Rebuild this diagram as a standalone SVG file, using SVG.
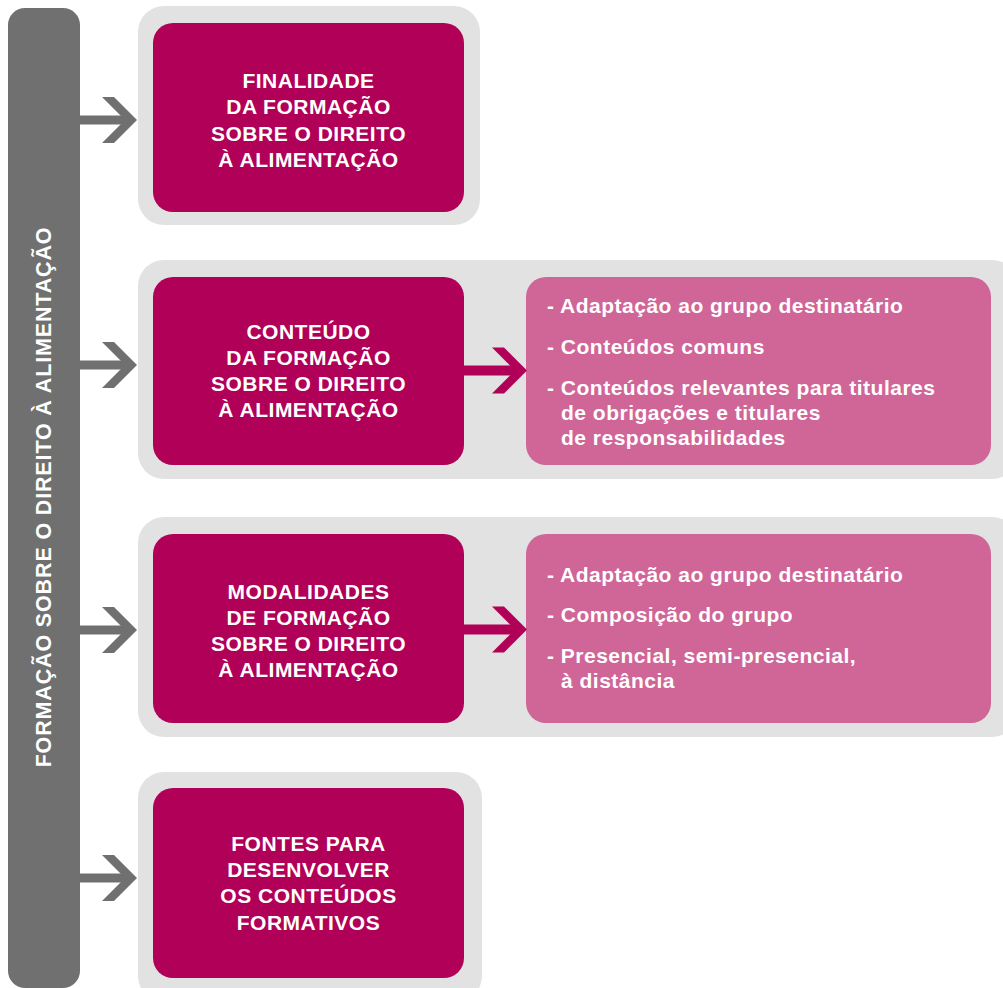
<svg xmlns="http://www.w3.org/2000/svg" width="1003" height="988" viewBox="0 0 1003 988">
<style>
.cont{fill:#e2e2e2}
.main{fill:#b00057}
.sub{fill:#d06598}
.bar{fill:#707070}
.t{font-family:"Liberation Sans",Arial,sans-serif;font-weight:bold;font-size:21px;letter-spacing:0.5px;fill:#ffffff}
.v{font-size:21.5px;letter-spacing:0.85px}
.c{text-anchor:middle}
.ga{fill:#707070}
.ma{fill:#b00057}
</style>
<rect width="1003" height="988" fill="#ffffff"/>
<g id="sidebar">
<rect class="bar" x="8" y="8" width="72" height="980" rx="17"/>
<text class="t v c" transform="translate(51,497) rotate(-90)">FORMAÇÃO SOBRE O DIREITO À ALIMENTAÇÃO</text>
</g>
<g id="row1">
<rect class="cont" x="138" y="6" width="342" height="219" rx="26"/>
<rect class="main" x="153" y="23" width="311" height="189" rx="20"/>
<text class="t c" x="308.5" y="88">FINALIDADE</text>
<text class="t c" x="308.5" y="114">DA FORMAÇÃO</text>
<text class="t c" x="308.5" y="140.5">SOBRE O DIREITO</text>
<text class="t c" x="308.5" y="166.5">À ALIMENTAÇÃO</text>
</g>
<g id="row2">
<rect class="cont" x="138" y="260" width="880" height="219" rx="26"/>
<rect class="main" x="153" y="277" width="311" height="188" rx="20"/>
<text class="t c" x="308.5" y="339">CONTEÚDO</text>
<text class="t c" x="308.5" y="365">DA FORMAÇÃO</text>
<text class="t c" x="308.5" y="391">SOBRE O DIREITO</text>
<text class="t c" x="308.5" y="417">À ALIMENTAÇÃO</text>
</g>
<g id="row2-detail">
<rect class="sub" x="526" y="277" width="465" height="188" rx="20"/>
<text class="t" x="547" y="313">- Adaptação ao grupo destinatário</text>
<text class="t" x="547" y="354">- Conteúdos comuns</text>
<text class="t" x="547" y="395">- Conteúdos relevantes para titulares</text>
<text class="t" x="561" y="420">de obrigações e titulares</text>
<text class="t" x="561" y="445">de responsabilidades</text>
</g>
<g id="row3">
<rect class="cont" x="138" y="517" width="880" height="220" rx="26"/>
<rect class="main" x="153" y="534" width="311" height="189" rx="20"/>
<text class="t c" x="308.5" y="599">MODALIDADES</text>
<text class="t c" x="308.5" y="625">DE FORMAÇÃO</text>
<text class="t c" x="308.5" y="651">SOBRE O DIREITO</text>
<text class="t c" x="308.5" y="677">À ALIMENTAÇÃO</text>
</g>
<g id="row3-detail">
<rect class="sub" x="526" y="534" width="465" height="189" rx="20"/>
<text class="t" x="547" y="582">- Adaptação ao grupo destinatário</text>
<text class="t" x="547" y="622">- Composição do grupo</text>
<text class="t" x="547" y="663">- Presencial, semi-presencial,</text>
<text class="t" x="561" y="688">à distância</text>
</g>
<g id="row4">
<rect class="cont" x="138" y="772" width="344" height="230" rx="26"/>
<rect class="main" x="153" y="788" width="311" height="190" rx="20"/>
<text class="t c" x="308.5" y="851">FONTES PARA</text>
<text class="t c" x="308.5" y="877">DESENVOLVER</text>
<text class="t c" x="308.5" y="903">OS CONTEÚDOS</text>
<text class="t c" x="308.5" y="930">FORMATIVOS</text>
</g>
<g id="connectors">
<g class="ga">
<rect x="80" y="115.5" width="46" height="9"/>
<polygon points="102,97 114,97 137,120 114,143 102,143 125,120"/>
<rect x="80" y="360.5" width="46" height="9"/>
<polygon points="102,342 114,342 137,365 114,388 102,388 125,365"/>
<rect x="80" y="625.5" width="46" height="9"/>
<polygon points="102,607 114,607 137,630 114,653 102,653 125,630"/>
<rect x="80" y="873.5" width="46" height="9"/>
<polygon points="102,855 114,855 137,878 114,901 102,901 125,878"/>
</g>
<g class="ma">
<rect x="464" y="365.5" width="52" height="10"/>
<polygon points="492,347.5 504,347.5 527,370.5 504,393.5 492,393.5 515,370.5"/>
<rect x="464" y="624.5" width="52" height="10"/>
<polygon points="492,606.5 504,606.5 527,629.5 504,652.5 492,652.5 515,629.5"/>
</g>
</g>
</svg>
